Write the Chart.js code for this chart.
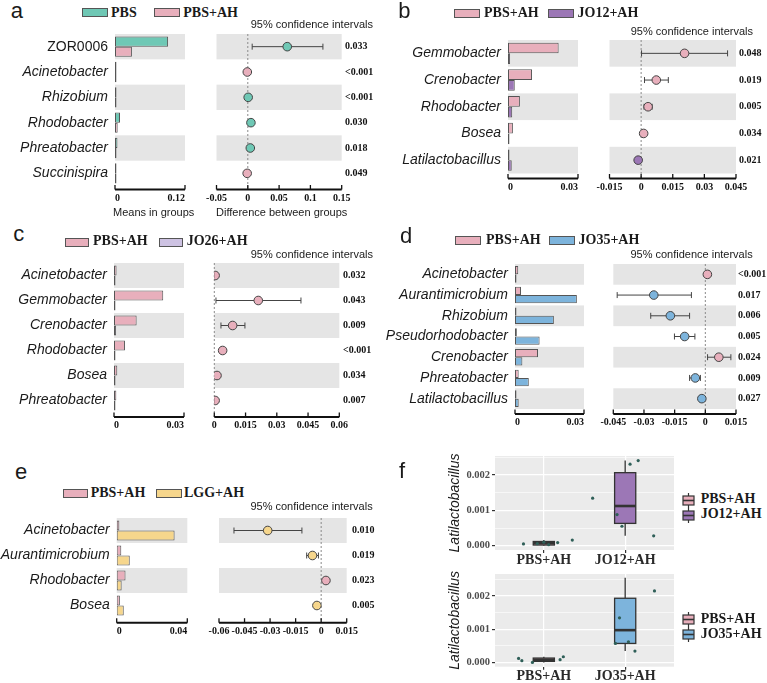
<!DOCTYPE html>
<html>
<head>
<meta charset="utf-8">
<script src="https://cdn.jsdelivr.net/npm/chart.js@4.4.1/dist/chart.umd.min.js"></script>
<style>
  html, body { margin: 0; padding: 0; background: #fff; }
  #fig { position: relative; width: 767px; height: 683px; overflow: hidden; }
  #fig canvas { position: absolute; }
  .t { position: absolute; white-space: nowrap; color: #1a1a1a; }
  .sw { position: absolute; box-sizing: border-box; border: 1.5px solid #555; }
  .key { position: absolute; }
</style>
</head>
<body>
<div id="fig"></div>
<script>
// ─── PANEL A · PBS vs PBS+AH ──────────────────────────────────
const aGenera = ['ZOR0006', 'Acinetobacter', 'Rhizobium', 'Rhodobacter', 'Phreatobacter', 'Succinispira'];
const aPBS    = [0.091, 0.0003, 0.0008, 0.0086, 0.0042, 0.0002];
const aPBSAH  = [0.029, 0.0011, 0.0002, 0.0046, 0.0009, 0.0008];
const aDiff   = [0.063, -0.0008, 0.0006, 0.0050, 0.0040, -0.0010];
const aLow    = [0.007, -0.0016, 0.0001, 0.0030, 0.0020, -0.0018];
const aHigh   = [0.120, -0.0002, 0.0011, 0.0070, 0.0060, -0.0003];
const aPvals  = ['0.033', '<0.001', '<0.001', '0.030', '0.018', '0.049'];
const aBarTicks = [0, 0.12];
const aCiTicks  = [-0.05, 0, 0.05, 0.1, 0.15];

// ─── PANEL B · PBS+AH vs JO12+AH ──────────────────────────────
const bGenera = ['Gemmobacter', 'Crenobacter', 'Rhodobacter', 'Bosea', 'Latilactobacillus'];
const bPBSAH  = [0.0217, 0.0103, 0.0051, 0.0021, 0.0001];
const bJO12   = [0.0009, 0.0029, 0.0018, 0.0001, 0.0016];
const bDiff   = [0.0206, 0.0072, 0.0033, 0.0012, -0.0014];
const bLow    = [0.0002, 0.0016, 0.0014, 0.0004, -0.0022];
const bHigh   = [0.0410, 0.0129, 0.0052, 0.0020, -0.0006];
const bPvals  = ['0.048', '0.019', '0.005', '0.034', '0.021'];
const bBarTicks = [0, 0.03];
const bCiTicks  = [-0.015, 0, 0.015, 0.03, 0.045];

// ─── PANEL C · PBS+AH vs JO26+AH ──────────────────────────────
const cGenera = ['Acinetobacter', 'Gemmobacter', 'Crenobacter', 'Rhodobacter', 'Bosea', 'Phreatobacter'];
const cPBSAH  = [0.0011, 0.0211, 0.0097, 0.0047, 0.0014, 0.0010];
const cJO26   = [0.0002, 0.0001, 0.0009, 0.0006, 0.0002, 0.0001];
const cDiff   = [0.0004, 0.0211, 0.0088, 0.0040, 0.0013, 0.0004];
const cLow    = [0.0001, 0.0008, 0.0032, 0.0026, 0.0005, 0.0001];
const cHigh   = [0.0008, 0.0416, 0.0147, 0.0054, 0.0021, 0.0008];
const cPvals  = ['0.032', '0.043', '0.009', '<0.001', '0.034', '0.007'];
const cBarTicks = [0, 0.03];
const cCiTicks  = [0, 0.015, 0.03, 0.045, 0.06];

// ─── PANEL D · PBS+AH vs JO35+AH ──────────────────────────────
const dGenera = ['Acinetobacter', 'Aurantimicrobium', 'Rhizobium', 'Pseudorhodobacter', 'Crenobacter', 'Phreatobacter', 'Latilactobacillus'];
const dPBSAH  = [0.0014, 0.0026, 0.0001, 0.0008, 0.0100, 0.0016, 0.0001];
const dJO35   = [0.0001, 0.0269, 0.0169, 0.0107, 0.0032, 0.0060, 0.0016];
const dDiff   = [0.0010, -0.0252, -0.0171, -0.0101, 0.0066, -0.0049, -0.0017];
const dLow    = [0.0004, -0.0431, -0.0267, -0.0151, 0.0011, -0.0077, -0.0025];
const dHigh   = [0.0016, -0.0068, -0.0077, -0.0051, 0.0125, -0.0024, -0.0009];
const dPvals  = ['<0.001', '0.017', '0.006', '0.005', '0.024', '0.009', '0.027'];
const dBarTicks = [0, 0.03];
const dCiTicks  = [-0.045, -0.03, -0.015, 0, 0.015];

// ─── PANEL E · PBS+AH vs LGG+AH ───────────────────────────────
const eGenera = ['Acinetobacter', 'Aurantimicrobium', 'Rhodobacter', 'Bosea'];
const ePBSAH  = [0.0015, 0.0026, 0.0050, 0.0018];
const eLGG    = [0.0328, 0.0074, 0.0028, 0.0040];
const eDiff   = [-0.0314, -0.0051, 0.0028, -0.0025];
const eLow    = [-0.0512, -0.0085, 0.0020, -0.0032];
const eHigh   = [-0.0113, -0.0016, 0.0036, -0.0015];
const ePvals  = ['0.010', '0.019', '0.023', '0.005'];
const eBarTicks = [0, 0.04];
const eCiTicks  = [-0.06, -0.045, -0.03, -0.015, 0, 0.015];

// ─── PANEL F · Latilactobacillus box plots ────────────────────
const fTopGroups = ['PBS+AH', 'JO12+AH'];
const fBotGroups = ['PBS+AH', 'JO35+AH'];
// [min, q1, median, q3, max]
const fTopPBS  = [0.00000, 0.00002, 0.00007, 0.00012, 0.00016];
const fTopJO12 = [0.00028, 0.00063, 0.00112, 0.00206, 0.00240];
const fBotPBS  = [0.00000, 0.00003, 0.00008, 0.00013, 0.00017];
const fBotJO35 = [0.00034, 0.00057, 0.00097, 0.00193, 0.00255];
const fTopPtsX = [0.75, 0.92, 1.00, 1.06, 1.17, 1.35, 1.60, 1.90, 1.96, 2.06, 2.16, 2.35];
const fTopPtsY = [0.00005, 0.00006, 0.00010, 0.00003, 0.00009, 0.00016, 0.00134, 0.00088, 0.00055, 0.00230, 0.00240, 0.00028];
const fBotPtsX = [0.69, 0.73, 0.86, 1.20, 1.24, 1.88, 1.93, 2.04, 2.12, 2.36];
const fBotPtsY = [0.00012, 0.00005, 0.00000, 0.00008, 0.00017, 0.00057, 0.00134, 0.00062, 0.00034, 0.00215];
const fYTicks  = [0, 0.0005, 0.001, 0.0015, 0.002, 0.0025];
const fYLabels = ['0.000', '', '0.001', '', '0.002', ''];

const COLORS = {
    PBS: '#6fc8b5', PBSAH: '#e8afbc', JO12: '#9c77b6',
    JO26: '#cdc2e2', JO35: '#7db4dc', LGG: '#f6d68c'
};

Chart.defaults.font.family = 'Liberation Sans';
Chart.defaults.color = '#1a1a1a';
Chart.defaults.animation = false;
Chart.defaults.plugins.legend.display = false;
Chart.defaults.plugins.tooltip.enabled = false;

const fig = document.getElementById('fig');

// ─── HELPERS ──────────────────────────────────────────────────
function addCanvas(l, t, r, b) {
    const c = document.createElement('canvas');
    c.width = r - l; c.height = b - t;
    c.style.left = l + 'px'; c.style.top = t + 'px';
    c.style.width = (r - l) + 'px'; c.style.height = (b - t) + 'px';
    fig.appendChild(c);
    return c;
}

// text placed by its baseline
function txt(s, x, base, size, opts = {}) {
    const d = document.createElement('div');
    d.className = 't';
    d.textContent = s;
    const serif = opts.serif;
    d.style.fontFamily = serif ? '"Liberation Serif"' : '"Liberation Sans"';
    d.style.fontSize = size + 'px';
    d.style.lineHeight = size + 'px';
    if (opts.bold) d.style.fontWeight = 'bold';
    if (opts.italic) d.style.fontStyle = 'italic';
    d.style.top = (base - (serif ? 0.8375 : 0.8465) * size) + 'px';
    d.style.left = x + 'px';
    if (opts.right) d.style.transform = 'translateX(-100%)';
    fig.appendChild(d);
}

function swatch(x, y, w, h, color) {
    const d = document.createElement('div');
    d.className = 'sw';
    Object.assign(d.style, { left: x + 'px', top: y + 'px', width: w + 'px', height: h + 'px', background: color });
    fig.appendChild(d);
}

function boxKey(x, y, fill) {
    const d = document.createElement('div');
    d.className = 'key';
    d.style.left = x + 'px'; d.style.top = y + 'px';
    d.innerHTML = `<svg width="13" height="15" xmlns="http://www.w3.org/2000/svg">
      <line x1="6.5" y1="0" x2="6.5" y2="3" stroke="#333" stroke-width="1.2"/>
      <rect x="1" y="3" width="11" height="9" fill="${fill}" stroke="#333" stroke-width="1.2"/>
      <line x1="1" y1="7.5" x2="12" y2="7.5" stroke="#333" stroke-width="1.6"/>
      <line x1="6.5" y1="12" x2="6.5" y2="15" stroke="#333" stroke-width="1.2"/></svg>`;
    fig.appendChild(d);
}

const fixWidth  = w => s => { s.width = w; s.paddingTop = 0; s.paddingBottom = 0; };
const fixHeight = h => s => { s.height = h; s.paddingLeft = 0; s.paddingRight = 0; };
const setTicks  = vals => s => { s.ticks = vals.map(v => ({ value: v })); };

// ─── PLUGINS ──────────────────────────────────────────────────
const rowBands = {
    id: 'rowBands',
    beforeDatasetsDraw(chart) {
        const { ctx, chartArea: ca } = chart;
        const y = chart.scales.y;
        const n = y.getLabels().length;
        const slot = (ca.bottom - ca.top) / n;
        ctx.save();
        ctx.fillStyle = '#e5e5e5';
        for (let i = 0; i < n; i += 2) {
            const cy = y.getPixelForValue(i);
            ctx.fillRect(ca.left, cy - slot / 2, ca.right - ca.left, slot);
        }
        ctx.restore();
    }
};

function axisLine(gap) {
    return {
        id: 'axisLine',
        afterDraw(chart) {
            const { ctx, chartArea: ca } = chart;
            const x = chart.scales.x;
            const yy = ca.bottom + gap;
            ctx.save();
            ctx.strokeStyle = '#111';
            ctx.lineWidth = 2;
            ctx.beginPath(); ctx.moveTo(ca.left, yy); ctx.lineTo(ca.right, yy); ctx.stroke();
            ctx.lineWidth = 1.3;
            x.ticks.forEach(t => {
                const px = x.getPixelForValue(t.value);
                ctx.beginPath(); ctx.moveTo(px, yy); ctx.lineTo(px, yy - 4.5); ctx.stroke();
            });
            ctx.restore();
        }
    };
}

function zeroLine(gap) {
    return {
        id: 'zeroLine',
        beforeDatasetsDraw(chart) {
            const { ctx, chartArea: ca } = chart;
            const px = chart.scales.x.getPixelForValue(0);
            ctx.save();
            ctx.strokeStyle = '#8a8a8a';
            ctx.lineWidth = 1;
            ctx.setLineDash([2, 2]);
            ctx.beginPath(); ctx.moveTo(px, ca.top); ctx.lineTo(px, ca.bottom + gap); ctx.stroke();
            ctx.restore();
        }
    };
}

function errorBars(lo, hi) {
    return {
        id: 'errorBars',
        beforeDatasetsDraw(chart) {
            const { ctx } = chart;
            const x = chart.scales.x, y = chart.scales.y;
            ctx.save();
            ctx.strokeStyle = '#444';
            ctx.lineWidth = 1;
            lo.forEach((l, i) => {
                const py = y.getPixelForValue(i);
                const x1 = x.getPixelForValue(l), x2 = x.getPixelForValue(hi[i]);
                ctx.beginPath();
                ctx.moveTo(x1, py); ctx.lineTo(x2, py);
                ctx.moveTo(x1, py - 3); ctx.lineTo(x1, py + 3);
                ctx.moveTo(x2, py - 3); ctx.lineTo(x2, py + 3);
                ctx.stroke();
            });
            ctx.restore();
        }
    };
}

const panelBg = {
    id: 'panelBg',
    beforeDraw(chart) {
        const { ctx, chartArea: ca } = chart;
        ctx.save();
        ctx.fillStyle = '#ebebeb';
        ctx.fillRect(ca.left, ca.top, ca.right - ca.left, ca.bottom - ca.top);
        ctx.restore();
    }
};

function boxes(stats, fills) {
    return {
        id: 'boxes',
        beforeDatasetsDraw(chart) {
            const { ctx } = chart;
            const x = chart.scales.x, y = chart.scales.y;
            ctx.save();
            ctx.strokeStyle = '#333';
            stats.forEach((s, i) => {
                const cx = x.getPixelForValue(i + 1);
                const hw = x.getPixelForValue(i + 1.13) - cx;
                const [mn, q1, md, q3, mx] = s.map(v => y.getPixelForValue(v));
                ctx.lineWidth = 1.3;
                ctx.beginPath();
                ctx.moveTo(cx, mx); ctx.lineTo(cx, q3);
                ctx.moveTo(cx, q1); ctx.lineTo(cx, mn);
                ctx.stroke();
                ctx.fillStyle = fills[i];
                ctx.fillRect(cx - hw, q3, 2 * hw, q1 - q3);
                ctx.strokeRect(cx - hw, q3, 2 * hw, q1 - q3);
                ctx.lineWidth = 2.6;
                ctx.beginPath(); ctx.moveTo(cx - hw, md); ctx.lineTo(cx + hw, md); ctx.stroke();
            });
            ctx.restore();
        }
    };
}

const tickFont  = { family: 'Liberation Serif', size: 10, weight: 'bold' };
const genusFont = ctx => ({
    family: 'Liberation Sans', size: 14,
    style: ctx.tick && /\d/.test(ctx.tick.label) ? 'normal' : 'italic'
});

// ─── STAMP-STYLE PANEL: mean bars + 95% CI ────────────────────
function forest(p) {
    const cTop = Math.floor(p.top - 8);
    const cBot = Math.ceil(p.axisY + 20);
    const gap = p.axisY - p.bottom;
    const labelPad = (p.axisY + 8.5) - p.bottom - 6;

    // mean bars
    const bR = Math.ceil(p.bar[1] + 14);
    new Chart(addCanvas(p.left, cTop, bR, cBot), {
        type: 'bar',
        data: {
            labels: p.genera,
            datasets: [
                { data: p.g1, backgroundColor: p.c1 },
                { data: p.g2, backgroundColor: p.c2 }
            ]
        },
        options: {
            indexAxis: 'y',
            responsive: false,
            devicePixelRatio: 1,
            layout: { padding: { top: p.top - cTop, right: bR - p.bar[1], left: 0, bottom: 0 } },
            datasets: { bar: {
                categoryPercentage: 0.8, barPercentage: 1,
                borderColor: '#555', borderWidth: 1, borderSkipped: false, minBarLength: 1.5
            } },
            scales: {
                y: {
                    afterFit: fixWidth(p.bar[0] - p.left),
                    grid: { display: false, drawTicks: false },
                    border: { display: false },
                    ticks: { padding: 7, autoSkip: false, color: '#1a1a1a', font: genusFont }
                },
                x: {
                    min: p.barTicks[0], max: p.barTicks[p.barTicks.length - 1],
                    afterBuildTicks: setTicks(p.barTicks),
                    afterFit: fixHeight(cBot - p.bottom),
                    grid: { display: false, drawTicks: false },
                    border: { display: false },
                    ticks: { padding: labelPad, align: 'inner', maxRotation: 0, minRotation: 0, autoSkip: false,
                             color: '#111', font: tickFont, callback: v => String(v) }
                }
            }
        },
        plugins: [rowBands, axisLine(gap)]
    });

    // differences with confidence intervals
    const ciL = Math.floor(p.ci[0] - 20);
    new Chart(addCanvas(ciL, cTop, p.right, cBot), {
        type: 'scatter',
        data: {
            datasets: [{
                data: p.diff.map((d, i) => ({ x: d, y: p.genera[i] })),
                backgroundColor: p.diff.map(d => d >= 0 ? p.c1 : p.c2),
                borderColor: '#444',
                borderWidth: 1,
                pointRadius: 4.3
            }]
        },
        options: {
            responsive: false,
            devicePixelRatio: 1,
            layout: { padding: { top: p.top - cTop, left: p.ci[0] - ciL, right: 0, bottom: 0 } },
            scales: {
                x: {
                    type: 'linear',
                    min: p.ciTicks[0], max: p.ciTicks[p.ciTicks.length - 1],
                    afterBuildTicks: setTicks(p.ciTicks),
                    afterFit: fixHeight(cBot - p.bottom),
                    grid: { display: false, drawTicks: false },
                    border: { display: false },
                    ticks: { padding: labelPad, maxRotation: 0, minRotation: 0, autoSkip: false,
                             color: '#111', font: tickFont, callback: v => String(v) }
                },
                y: { type: 'category', labels: p.genera, offset: true, display: false },
                pv: {
                    type: 'category', axis: 'y', position: 'right', labels: p.pvals, offset: true,
                    afterFit: fixWidth(p.right - p.ci[1]),
                    grid: { display: false, drawTicks: false },
                    border: { display: false },
                    ticks: { padding: p.pX - p.ci[1], autoSkip: false, color: '#111', font: tickFont }
                }
            }
        },
        plugins: [rowBands, zeroLine(gap), errorBars(p.lo, p.hi), axisLine(gap)]
    });
}

// ─── BOX PLOT PANEL ───────────────────────────────────────────
function boxChart(p) {
    const [cl, ct, cr, cb] = p.canvas;
    const [al, at, ar, ab] = p.area;
    new Chart(addCanvas(cl, ct, cr, cb), {
        type: 'scatter',
        data: {
            datasets: [{
                data: p.ptsX.map((x, i) => ({ x, y: p.ptsY[i] })),
                backgroundColor: '#2f5f58',
                borderWidth: 0,
                pointRadius: 1.6
            }]
        },
        options: {
            responsive: false,
            devicePixelRatio: 1,
            layout: { padding: { top: at - ct, right: cr - ar, left: 0, bottom: 0 } },
            scales: {
                x: {
                    type: 'linear', min: 0.4, max: 2.6,
                    afterBuildTicks: setTicks([1, 2]),
                    afterFit: fixHeight(cb - ab),
                    grid: { color: '#fff', lineWidth: 1.2, tickLength: 3, tickColor: '#333' },
                    border: { display: false },
                    ticks: { padding: 0, maxRotation: 0, color: '#2a2a2a',
                             font: { family: 'Liberation Serif', size: 14, weight: 'bold', lineHeight: 1 },
                             callback: (v, i) => p.groups[i] }
                },
                y: {
                    min: p.yMin, max: p.yMax,
                    afterBuildTicks: setTicks(fYTicks),
                    afterFit: fixWidth(al - cl),
                    grid: {
                        color: '#fff',
                        lineWidth: ctx => fYLabels[ctx.index] ? 1.2 : 0.6,
                        tickLength: 3,
                        tickColor: ctx => fYLabels[ctx.index] ? '#333' : 'rgba(0,0,0,0)'
                    },
                    border: { display: false },
                    title: { display: true, text: 'Latilactobacillus', padding: { top: 2, bottom: 0 }, color: '#1a1a1a',
                             font: { family: 'Liberation Sans', size: 14, style: 'italic' } },
                    ticks: { padding: 2, autoSkip: false, color: '#4d4d4d',
                             font: { family: 'Liberation Serif', size: 10.5, weight: 'bold' },
                             callback: (v, i) => fYLabels[i] }
                }
            }
        },
        plugins: [panelBg, boxes(p.stats, p.fills)]
    });
}

// ─── BUILD ────────────────────────────────────────────────────
forest({ left: 0, right: 380, top: 34, bottom: 186, axisY: 189.5,
         bar: [115, 185], barTicks: aBarTicks, ci: [216.5, 341.7], ciTicks: aCiTicks, pX: 345,
         genera: aGenera, g1: aPBS, g2: aPBSAH, c1: COLORS.PBS, c2: COLORS.PBSAH,
         diff: aDiff, lo: aLow, hi: aHigh, pvals: aPvals });

forest({ left: 380, right: 767, top: 40, bottom: 173.5, axisY: 178.5,
         bar: [508, 578], barTicks: bBarTicks, ci: [609.5, 736], ciTicks: bCiTicks, pX: 739,
         genera: bGenera, g1: bPBSAH, g2: bJO12, c1: COLORS.PBSAH, c2: COLORS.JO12,
         diff: bDiff, lo: bLow, hi: bHigh, pvals: bPvals });

forest({ left: 0, right: 380, top: 263, bottom: 413, axisY: 417,
         bar: [114, 184], barTicks: cBarTicks, ci: [214.3, 339.3], ciTicks: cCiTicks, pX: 343,
         genera: cGenera, g1: cPBSAH, g2: cJO26, c1: COLORS.PBSAH, c2: COLORS.JO26,
         diff: cDiff, lo: cLow, hi: cHigh, pvals: cPvals });

forest({ left: 380, right: 767, top: 264, bottom: 409, axisY: 414,
         bar: [515, 584], barTicks: dBarTicks, ci: [613.3, 736], ciTicks: dCiTicks, pX: 738,
         genera: dGenera, g1: dPBSAH, g2: dJO35, c1: COLORS.PBSAH, c2: COLORS.JO35,
         diff: dDiff, lo: dLow, hi: dHigh, pvals: dPvals });

forest({ left: 0, right: 380, top: 518, bottom: 618, axisY: 622.7,
         bar: [116.7, 187.3], barTicks: eBarTicks, ci: [219, 346.7], ciTicks: eCiTicks, pX: 352,
         genera: eGenera, g1: ePBSAH, g2: eLGG, c1: COLORS.PBSAH, c2: COLORS.LGG,
         diff: eDiff, lo: eLow, hi: eHigh, pvals: ePvals });

boxChart({ canvas: [445, 446, 680, 570], area: [495, 456, 674, 550], groups: fTopGroups,
           stats: [fTopPBS, fTopJO12], fills: [COLORS.PBSAH, COLORS.JO12],
           ptsX: fTopPtsX, ptsY: fTopPtsY, yMin: -0.00012, yMax: 0.00253 });

boxChart({ canvas: [445, 566, 680, 683], area: [495, 574, 674, 666.7], groups: fBotGroups,
           stats: [fBotPBS, fBotJO35], fills: [COLORS.PBSAH, COLORS.JO35],
           ptsX: fBotPtsX, ptsY: fBotPtsY, yMin: -0.00013, yMax: 0.00266 });

// ─── LABELS & LEGENDS ─────────────────────────────────────────
const LEG = { serif: true, bold: true };

txt('a', 10.7, 18.3, 22);
swatch(81.7, 8.3, 26.6, 9, COLORS.PBS);   txt('PBS', 111, 17.3, 14, LEG);
swatch(154, 8.3, 26, 9, COLORS.PBSAH);    txt('PBS+AH', 183.3, 17.3, 14, LEG);
txt('95% confidence intervals', 373, 28.5, 11, { right: true });
txt('Means in groups', 113, 216, 11);
txt('Difference between groups', 216, 216, 11);

txt('b', 398.3, 18.3, 22);
swatch(454, 9, 26, 8.5, COLORS.PBSAH);    txt('PBS+AH', 484, 17.3, 14, LEG);
swatch(548, 9, 26, 8.5, COLORS.JO12);     txt('JO12+AH', 577.5, 17.3, 14, LEG);
txt('95% confidence intervals', 753, 35, 11, { right: true });

txt('c', 13.3, 241.7, 22);
swatch(65, 238, 24.3, 8.5, COLORS.PBSAH); txt('PBS+AH', 93, 246, 14, LEG);
swatch(159.3, 238, 23.7, 8.5, COLORS.JO26); txt('JO26+AH', 186.7, 246, 14, LEG);
txt('95% confidence intervals', 373, 258.3, 11, { right: true });

txt('d', 400, 243.3, 22);
swatch(455, 236, 26, 8.5, COLORS.PBSAH);  txt('PBS+AH', 486, 244.3, 14, LEG);
swatch(548.5, 236, 26.5, 8.5, COLORS.JO35); txt('JO35+AH', 578.5, 244.3, 14, LEG);
txt('95% confidence intervals', 752.7, 258.3, 11, { right: true });

txt('e', 15, 480, 22);
swatch(63.3, 489, 25, 8.5, COLORS.PBSAH); txt('PBS+AH', 90.7, 497.3, 14, LEG);
swatch(156, 489, 25.7, 8.5, COLORS.LGG);  txt('LGG+AH', 184, 497.3, 14, LEG);
txt('95% confidence intervals', 372.7, 510.7, 11, { right: true });

txt('f', 399, 478.3, 22);
boxKey(681.5, 493, COLORS.PBSAH); txt('PBS+AH', 700.7, 504, 14, LEG);
boxKey(681.5, 508, COLORS.JO12);  txt('JO12+AH', 700.7, 519, 14, LEG);
boxKey(681.5, 611.5, COLORS.PBSAH); txt('PBS+AH', 700.7, 623.3, 14, LEG);
boxKey(681.5, 626.5, COLORS.JO35);  txt('JO35+AH', 700.7, 638.3, 14, LEG);
</script>
</body>
</html>
